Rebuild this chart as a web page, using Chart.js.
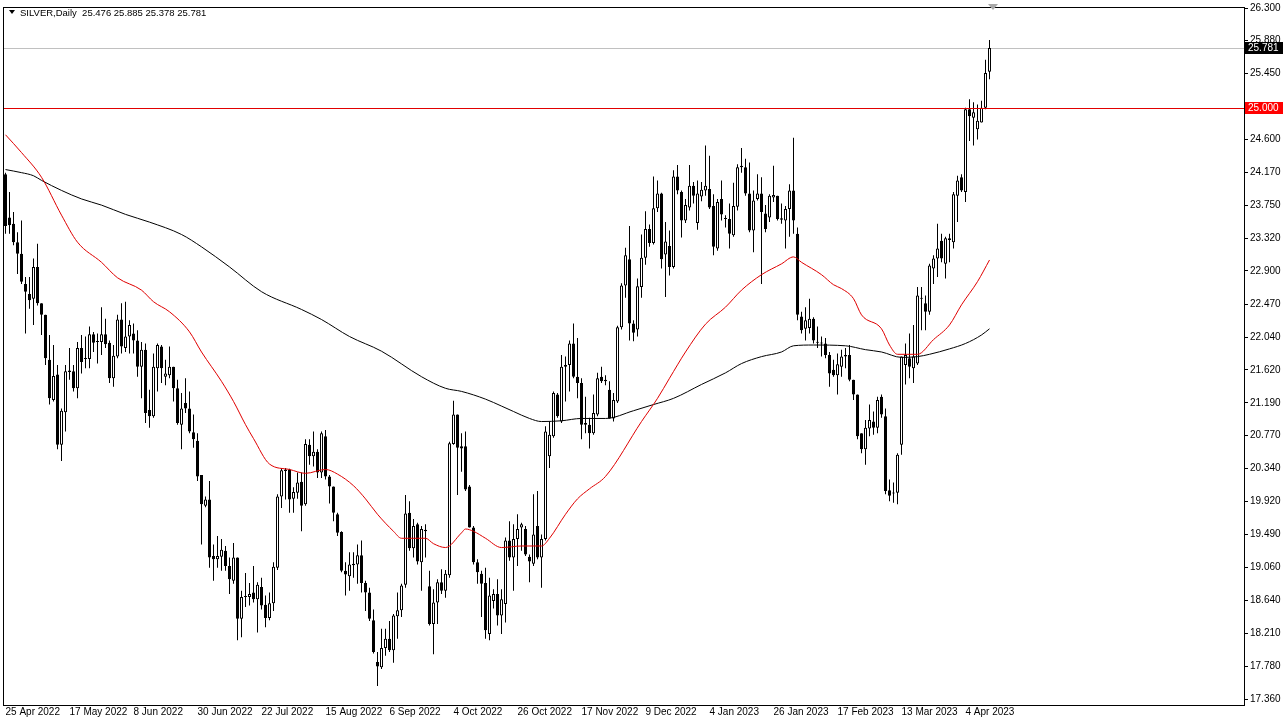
<!DOCTYPE html>
<html>
<head>
<meta charset="utf-8">
<title>SILVER, Daily</title>
<script src="https://cdn.jsdelivr.net/npm/chart.js@4.4.1/dist/chart.umd.min.js"></script>
<style>
  html, body { margin: 0; padding: 0; background: #fff; }
  #wrap { width: 1286px; height: 725px; }
</style>
</head>
<body>
<div id="wrap"><canvas id="myChart" width="1286" height="725"></canvas></div>
<script>
var symbolTitle = 'SILVER,Daily  25.476 25.885 25.378 25.781';

// date labels, one every 16 bars
var dateTicks = ['25 Apr 2022', '17 May 2022', '8 Jun 2022', '30 Jun 2022', '22 Jul 2022', '15 Aug 2022',
    '6 Sep 2022', '4 Oct 2022', '26 Oct 2022', '17 Nov 2022', '9 Dec 2022', '4 Jan 2023', '26 Jan 2023',
    '17 Feb 2023', '13 Mar 2023', '4 Apr 2023'];
var tickEvery = 16;

// daily candles (bar 0 = 25 Apr 2022)
var openP = [
    24.15, 23.59, 23.51, 23.27, 23.12, 22.73, 22.60, 22.54, 22.95, 22.48,
    22.33, 21.75, 21.23, 21.56, 20.65, 21.07, 21.61, 21.60, 21.38, 21.90,
    21.76, 21.76, 22.08, 21.98, 21.98, 22.08, 21.97, 21.51, 21.79, 22.27,
    21.90, 22.05, 22.09, 22.00, 21.66, 21.88, 21.10, 21.02, 21.64, 21.92,
    21.53, 21.55, 21.66, 21.38, 20.91, 21.19, 21.12, 20.81, 20.70, 20.26,
    19.86, 19.94, 19.21, 19.17, 19.20, 19.28, 19.08, 18.89, 19.19, 18.40,
    18.68, 18.68, 18.74, 18.65, 18.81, 18.58, 18.41, 18.60, 19.06, 19.98,
    20.31, 20.33, 19.95, 20.03, 20.17, 19.88, 20.65, 20.50, 20.56, 20.29,
    20.76, 20.24, 20.11, 19.75, 19.52, 19.02, 18.95, 19.11, 19.10, 19.22,
    18.86, 18.74, 18.38, 17.84, 17.77, 18.02, 18.14, 17.99, 18.43, 18.51,
    18.84, 19.77, 19.31, 19.62, 19.13, 19.55, 18.82, 18.33, 18.61, 18.87,
    18.76, 18.96, 20.66, 21.04, 20.63, 20.63, 20.11, 19.58, 19.13, 18.98,
    18.86, 18.20, 18.63, 18.72, 18.44, 18.59, 19.41, 19.19, 19.43, 19.58,
    19.56, 19.20, 19.11, 19.60, 19.19, 19.43, 20.50, 20.76, 21.30, 20.95,
    21.66, 21.68, 21.96, 21.53, 21.45, 20.93, 20.91, 20.80, 21.04, 21.53,
    21.47, 21.36, 20.99, 21.21, 22.17, 22.71, 23.05, 22.22, 22.14, 22.69,
    23.07, 23.44, 23.26, 23.71, 23.90, 23.11, 23.22, 22.95, 24.12, 23.92,
    23.55, 23.72, 24.00, 23.52, 23.86, 23.94, 23.96, 23.74, 23.19, 23.83,
    23.58, 23.57, 23.36, 23.73, 24.24, 24.24, 23.90, 23.42, 23.83, 23.90,
    23.64, 23.59, 23.85, 23.87, 23.56, 23.55, 23.70, 23.94, 23.38, 22.31,
    22.15, 22.16, 22.28, 21.97, 21.97, 21.96, 21.81, 21.62, 21.55, 21.66,
    21.79, 21.81, 21.49, 21.30, 20.80, 20.59, 20.86, 20.95, 20.87, 21.27,
    21.02, 20.06, 20.02, 20.03, 20.65, 21.68, 21.77, 21.64, 21.70, 22.54,
    22.48, 22.37, 22.93, 23.06, 23.29, 22.99, 23.32, 23.27, 23.87, 24.11,
    23.92, 24.99, 24.88, 24.73, 24.82, 25.01, 25.476
];
var highP = [
    24.17, 23.92, 23.66, 23.40, 23.55, 22.82, 22.82, 23.06, 23.25, 22.48,
    22.33, 22.07, 21.94, 21.68, 21.12, 21.68, 21.90, 21.68, 21.98, 22.07,
    22.05, 22.18, 22.11, 22.09, 22.43, 22.28, 22.00, 21.94, 22.33, 22.48,
    22.50, 22.26, 22.22, 22.13, 21.98, 21.96, 21.36, 21.83, 21.96, 21.94,
    21.75, 21.92, 21.66, 21.49, 21.32, 21.51, 21.34, 21.04, 20.80, 20.26,
    19.98, 20.18, 19.36, 19.47, 19.43, 19.34, 19.19, 19.38, 19.19, 18.76,
    18.99, 18.86, 19.08, 18.87, 18.93, 18.70, 18.74, 19.13, 20.01, 20.35,
    20.35, 20.34, 20.10, 20.29, 20.29, 20.72, 20.72, 20.82, 20.59, 20.82,
    20.84, 20.26, 20.11, 19.77, 19.53, 19.13, 19.26, 19.26, 19.36, 19.41,
    18.89, 18.80, 18.52, 17.97, 18.27, 18.27, 18.37, 18.46, 18.74, 18.85,
    20.00, 19.92, 19.69, 19.64, 19.60, 19.62, 19.02, 18.78, 18.91, 19.04,
    19.03, 20.69, 21.22, 21.04, 20.80, 20.82, 20.13, 19.60, 19.17, 19.02,
    19.06, 18.93, 18.78, 18.91, 18.78, 19.45, 19.66, 19.62, 19.75, 19.64,
    19.60, 19.23, 20.01, 20.05, 19.49, 20.89, 20.95, 21.34, 21.32, 21.81,
    21.79, 22.00, 22.22, 22.03, 21.51, 21.27, 21.00, 21.30, 21.58, 21.66,
    21.55, 21.47, 21.32, 22.19, 22.74, 23.20, 23.48, 22.26, 22.80, 23.37,
    23.67, 23.50, 24.12, 24.07, 23.91, 23.53, 23.42, 24.20, 24.27, 23.94,
    23.83, 24.27, 24.05, 24.07, 24.05, 24.52, 24.39, 23.89, 23.83, 24.07,
    23.62, 23.77, 24.04, 24.28, 24.49, 24.35, 24.30, 23.94, 24.15, 24.11,
    23.75, 23.89, 24.26, 23.87, 23.77, 23.74, 24.02, 24.62, 23.46, 22.37,
    22.43, 22.54, 22.30, 22.18, 22.05, 22.03, 21.85, 21.75, 21.83, 21.88,
    21.90, 21.94, 21.49, 21.30, 20.80, 20.97, 21.17, 21.08, 21.27, 21.30,
    21.12, 20.20, 20.16, 20.54, 21.79, 21.96, 22.09, 22.20, 22.69, 22.69,
    22.58, 22.99, 23.10, 23.51, 23.38, 23.34, 23.38, 23.92, 24.13, 24.15,
    25.01, 25.12, 25.08, 25.05, 25.10, 25.63, 25.885
];
var lowP = [
    23.38, 23.38, 23.23, 22.86, 22.73, 22.09, 22.41, 22.20, 22.45, 22.07,
    21.68, 21.17, 21.21, 20.59, 20.44, 20.82, 21.49, 21.34, 21.25, 21.57,
    21.64, 21.64, 21.85, 21.70, 21.81, 21.90, 21.45, 21.40, 21.77, 21.83,
    21.85, 21.83, 21.83, 21.53, 21.25, 20.93, 20.87, 21.00, 21.34, 21.45,
    21.42, 21.51, 21.21, 20.91, 20.59, 21.06, 20.80, 20.61, 20.18, 19.36,
    19.84, 19.06, 18.89, 19.06, 19.02, 19.02, 18.72, 18.85, 18.12, 18.16,
    18.55, 18.57, 18.61, 18.22, 18.52, 18.29, 18.38, 18.50, 19.03, 19.83,
    19.94, 19.77, 19.77, 19.95, 19.53, 19.86, 20.39, 20.37, 20.22, 20.22,
    20.20, 19.89, 19.66, 19.47, 19.00, 18.70, 18.76, 18.93, 18.85, 18.74,
    18.50, 18.37, 17.95, 17.53, 17.75, 17.92, 17.97, 17.83, 18.14, 18.42,
    18.80, 19.28, 19.19, 19.10, 18.76, 19.19, 18.31, 17.94, 18.33, 18.72,
    18.67, 18.93, 20.65, 20.00, 20.30, 20.05, 19.58, 19.10, 18.85, 18.42,
    18.14, 18.12, 18.53, 18.31, 18.20, 18.35, 19.15, 18.76, 19.08, 19.28,
    19.21, 18.87, 19.08, 19.17, 18.80, 19.41, 20.35, 20.74, 21.00, 20.93,
    21.21, 21.34, 21.51, 21.25, 20.72, 20.80, 20.60, 20.78, 21.02, 21.45,
    21.42, 20.99, 20.95, 21.19, 22.14, 22.55, 22.00, 21.99, 22.05, 22.55,
    22.98, 23.21, 23.24, 23.66, 22.93, 22.56, 22.84, 22.93, 23.89, 23.33,
    23.52, 23.68, 23.77, 23.43, 23.80, 23.87, 23.70, 23.10, 23.16, 23.55,
    23.46, 23.19, 23.34, 23.68, 24.17, 23.87, 23.40, 23.14, 23.81, 22.73,
    23.40, 23.53, 23.79, 23.55, 23.51, 23.19, 23.34, 23.38, 22.26, 22.09,
    22.00, 22.09, 21.96, 21.90, 21.79, 21.77, 21.40, 21.53, 21.30, 21.53,
    21.64, 21.47, 21.23, 20.72, 20.54, 20.39, 20.76, 20.78, 20.80, 21.00,
    20.01, 19.92, 19.90, 19.88, 20.52, 21.43, 21.51, 21.45, 21.68, 22.13,
    22.13, 22.33, 22.73, 22.82, 23.01, 22.80, 23.01, 23.19, 23.53, 23.92,
    23.79, 24.58, 24.52, 24.60, 24.82, 24.99, 25.378
];
var closeP = [
    23.48, 23.49, 23.27, 23.12, 22.76, 22.63, 22.52, 22.95, 22.48, 22.33,
    21.77, 21.25, 21.54, 20.65, 21.09, 21.60, 21.59, 21.38, 21.90, 21.72,
    21.77, 22.08, 21.97, 21.98, 22.08, 21.95, 21.51, 21.80, 22.27, 21.92,
    22.05, 22.20, 22.00, 21.66, 21.88, 21.06, 21.02, 21.66, 21.94, 21.64,
    21.57, 21.66, 21.38, 20.93, 21.12, 21.12, 20.82, 20.72, 20.24, 19.88,
    19.94, 19.19, 19.17, 19.21, 19.29, 19.08, 18.91, 19.19, 18.40, 18.68,
    18.69, 18.72, 18.65, 18.84, 18.57, 18.41, 18.60, 19.07, 19.98, 20.32,
    20.33, 19.94, 20.04, 20.16, 19.86, 20.66, 20.50, 20.56, 20.29, 20.80,
    20.24, 20.11, 19.77, 19.51, 19.02, 18.97, 19.10, 19.09, 19.22, 18.86,
    18.74, 18.40, 17.97, 17.78, 18.02, 18.14, 17.99, 18.44, 18.51, 18.83,
    19.76, 19.31, 19.60, 19.14, 19.56, 19.53, 18.33, 18.61, 18.87, 18.76,
    18.98, 20.67, 21.04, 20.61, 20.60, 20.07, 19.58, 19.13, 19.00, 18.85,
    18.25, 18.70, 18.72, 18.44, 18.65, 19.41, 19.19, 19.43, 19.56, 19.62,
    19.23, 19.14, 19.49, 19.19, 19.43, 20.82, 20.78, 21.32, 21.02, 21.66,
    21.68, 21.96, 21.53, 21.45, 20.91, 20.91, 20.80, 21.06, 21.51, 21.47,
    21.49, 20.99, 21.23, 22.17, 22.71, 23.10, 22.22, 22.10, 22.70, 23.07,
    23.44, 23.26, 23.71, 23.90, 23.05, 23.28, 22.95, 24.12, 23.94, 23.55,
    23.75, 24.00, 23.87, 23.90, 23.95, 24.00, 23.72, 23.21, 23.79, 23.63,
    23.57, 23.38, 23.74, 24.24, 24.26, 23.90, 23.42, 23.81, 23.90, 23.66,
    23.44, 23.87, 23.88, 23.57, 23.58, 23.70, 23.94, 23.55, 22.33, 22.13,
    22.26, 22.28, 22.00, 21.97, 21.96, 21.81, 21.57, 21.55, 21.69, 21.79,
    21.81, 21.49, 21.30, 20.76, 20.59, 20.87, 20.97, 20.87, 21.23, 21.04,
    20.05, 19.99, 20.03, 20.52, 21.79, 21.81, 21.66, 21.79, 22.58, 22.55,
    22.37, 22.97, 23.06, 23.19, 23.06, 23.32, 23.30, 23.89, 24.07, 23.94,
    24.99, 24.90, 24.95, 24.84, 25.01, 25.46, 25.781
];

// moving averages (bar index / price)
var maRedBars = [0, 4, 9, 14, 18, 24, 28, 34, 37, 41, 46, 49, 54, 57, 60, 62, 66, 71, 75, 80, 83, 87,
    90, 93, 97, 99, 105, 107, 110, 114, 115, 117, 120, 124, 129, 134, 136, 140, 143, 146, 150, 159,
    163, 166, 170, 175, 180, 184, 189, 194, 197, 199, 204, 207, 209, 212, 214, 219, 221, 223, 228,
    232, 236, 239, 243, 246];
var maRedVals = [24.66, 24.43, 24.11, 23.62, 23.27, 23.01, 22.81, 22.65, 22.50, 22.37, 22.11, 21.85,
    21.47, 21.21, 20.91, 20.73, 20.40, 20.33, 20.28, 20.33, 20.27, 20.12, 19.95, 19.75, 19.53, 19.44,
    19.44, 19.37, 19.32, 19.51, 19.56, 19.53, 19.44, 19.32, 19.34, 19.34, 19.44, 19.75, 19.95, 20.08,
    20.24, 20.95, 21.25, 21.51, 21.85, 22.21, 22.43, 22.65, 22.85, 22.99, 23.08, 23.01, 22.85, 22.72,
    22.67, 22.54, 22.33, 22.15, 21.94, 21.82, 21.82, 22.01, 22.20, 22.46, 22.76, 23.04];

var maBlackBars = [0, 4, 7, 9, 14, 19, 24, 30, 36, 44, 49, 56, 64, 74, 79, 86, 94, 104, 110, 114, 120,
    124, 127, 131, 134, 139, 144, 150, 157, 162, 167, 174, 180, 184, 189, 194, 197, 202, 210, 215,
    219, 224, 228, 231, 236, 240, 244, 246];
var maBlackVals = [24.21, 24.17, 24.13, 24.07, 23.94, 23.83, 23.75, 23.63, 23.53, 23.37, 23.21, 22.95,
    22.63, 22.40, 22.27, 22.05, 21.86, 21.53, 21.38, 21.34, 21.24, 21.15, 21.08, 20.99, 20.95, 20.96,
    20.99, 20.99, 21.09, 21.17, 21.25, 21.43, 21.58, 21.70, 21.79, 21.85, 21.93, 21.94, 21.93, 21.88,
    21.85, 21.78, 21.79, 21.82, 21.89, 21.96, 22.07, 22.15];

// price scale labels on the right
var priceTicks = [26.300, 25.880, 25.450, 25.020, 24.600, 24.170, 23.750, 23.320, 22.900, 22.470,
    22.040, 21.620, 21.190, 20.770, 20.340, 19.920, 19.490, 19.060, 18.640, 18.210, 17.780, 17.360];

var bidPrice = 25.781;
var levelPrice = 25.000;

var FONT = 'Liberation Sans';

var wickData = [], bodyData = [], bodyColors = [];
for (var i = 0; i < openP.length; i++) {
    wickData.push({ x: i, y: [lowP[i], highP[i]] });
    bodyData.push({ x: i, y: [openP[i], closeP[i]] });
    bodyColors.push(closeP[i] >= openP[i] ? '#ffffff' : '#000000');
}

function pairs(bars, vals) {
    return bars.map(function (b, k) { return { x: b, y: vals[k] }; });
}

function hline(chart, price, color) {
    var ctx = chart.ctx, a = chart.chartArea;
    var py = Math.round(chart.scales.y.getPixelForValue(price)) + 0.5;
    ctx.save();
    ctx.lineWidth = 1;
    ctx.strokeStyle = color;
    ctx.beginPath();
    ctx.moveTo(a.left, py);
    ctx.lineTo(a.right, py);
    ctx.stroke();
    ctx.restore();
}

// frame, title, price boxes etc - the MT4 look
var mt4Bits = {
    id: 'mt4Bits',
    beforeDraw: function (chart) {
        var ctx = chart.ctx;
        ctx.save();
        ctx.fillStyle = '#ffffff';
        ctx.fillRect(0, 0, chart.width, chart.height);
        ctx.restore();
    },
    beforeDatasetsDraw: function (chart) {
        hline(chart, bidPrice, '#c0c0c0');
    },
    afterDatasetsDraw: function (chart) {
        hline(chart, levelPrice, 'rgb(225,0,0)');
    },
    afterDraw: function (chart) {
        var ctx = chart.ctx, a = chart.chartArea, ys = chart.scales.y;
        ctx.save();
        // plot frame
        ctx.strokeStyle = '#000';
        ctx.lineWidth = 1;
        ctx.strokeRect(a.left - 0.5, a.top - 0.5, a.right - a.left + 1, a.bottom - a.top + 1);

        // symbol line top left
        ctx.fillStyle = '#000';
        ctx.beginPath();
        ctx.moveTo(9, 10); ctx.lineTo(15, 10); ctx.lineTo(12, 14); ctx.closePath();
        ctx.fill();
        ctx.font = '9.5px "' + FONT + '"';
        ctx.textBaseline = 'middle';
        ctx.fillText(symbolTitle, 20, 13);

        // chart shift marker
        ctx.fillStyle = '#a8a8a8';
        ctx.beginPath();
        ctx.moveTo(988, 4); ctx.lineTo(998, 4); ctx.lineTo(993, 10); ctx.closePath();
        ctx.fill();

        // price boxes on the axis
        ctx.font = '10px "' + FONT + '"';
        function box(p, color) {
            var py = Math.round(ys.getPixelForValue(p));
            ctx.fillStyle = color;
            ctx.fillRect(a.right + 1, py - 6, 38, 12);
            ctx.fillStyle = '#fff';
            ctx.fillText(p.toFixed(3), a.right + 4, py);
        }
        box(bidPrice, '#000000');
        box(levelPrice, '#ff0000');
        ctx.restore();
    }
};

var ctx = document.getElementById('myChart').getContext('2d');
var chart = new Chart(ctx, {
    type: 'bar',
    data: {
        datasets: [{
            type: 'line',
            label: 'MA red',
            data: pairs(maRedBars, maRedVals),
            borderColor: '#e00000',
            borderWidth: 1,
            pointRadius: 0,
            cubicInterpolationMode: 'monotone',
            order: 0
        }, {
            type: 'line',
            label: 'MA black',
            data: pairs(maBlackBars, maBlackVals),
            borderColor: '#000000',
            borderWidth: 1,
            pointRadius: 0,
            cubicInterpolationMode: 'monotone',
            order: 0
        }, {
            label: 'body',
            data: bodyData,
            backgroundColor: bodyColors,
            borderColor: '#000000',
            borderWidth: 1,
            borderSkipped: false,
            barThickness: 3,
            minBarLength: 1,
            inflateAmount: 0,
            grouped: false,
            order: 1
        }, {
            label: 'wick',
            data: wickData,
            backgroundColor: '#000000',
            borderWidth: 0,
            barThickness: 1,
            inflateAmount: 0,
            grouped: false,
            order: 2
        }]
    },
    options: {
        responsive: false,
        animation: false,
        devicePixelRatio: 1,
        layout: { padding: { left: 4, top: 5, right: 0, bottom: 0 } },
        plugins: {
            legend: { display: false },
            tooltip: { enabled: false }
        },
        scales: {
            x: {
                type: 'linear',
                min: -0.375,
                max: 309.625,
                offset: false,
                grid: { display: false, drawTicks: false, tickLength: 0 },
                border: { display: false },
                afterBuildTicks: function (s) {
                    s.ticks = dateTicks.map(function (d, k) { return { value: k * tickEvery }; });
                },
                afterFit: function (s) { s.height = 20; },
                ticks: {
                    align: 'start',
                    autoSkip: false,
                    maxRotation: 0,
                    padding: 1,
                    color: '#000',
                    font: { family: FONT, size: 10 },
                    callback: function (v) { return dateTicks[Math.round(v / tickEvery)]; }
                }
            },
            y: {
                type: 'linear',
                position: 'right',
                min: 17.283,
                max: 26.30,
                grid: { drawOnChartArea: false, tickLength: 4, color: '#000' },
                border: { display: false },
                afterBuildTicks: function (s) {
                    s.ticks = priceTicks.map(function (v) { return { value: v }; });
                },
                afterFit: function (s) { s.width = 42; },
                ticks: {
                    padding: 2,
                    color: '#000',
                    font: { family: FONT, size: 10 },
                    callback: function (v) { return v.toFixed(3); }
                }
            }
        }
    },
    plugins: [mt4Bits]
});
</script>
</body>
</html>
